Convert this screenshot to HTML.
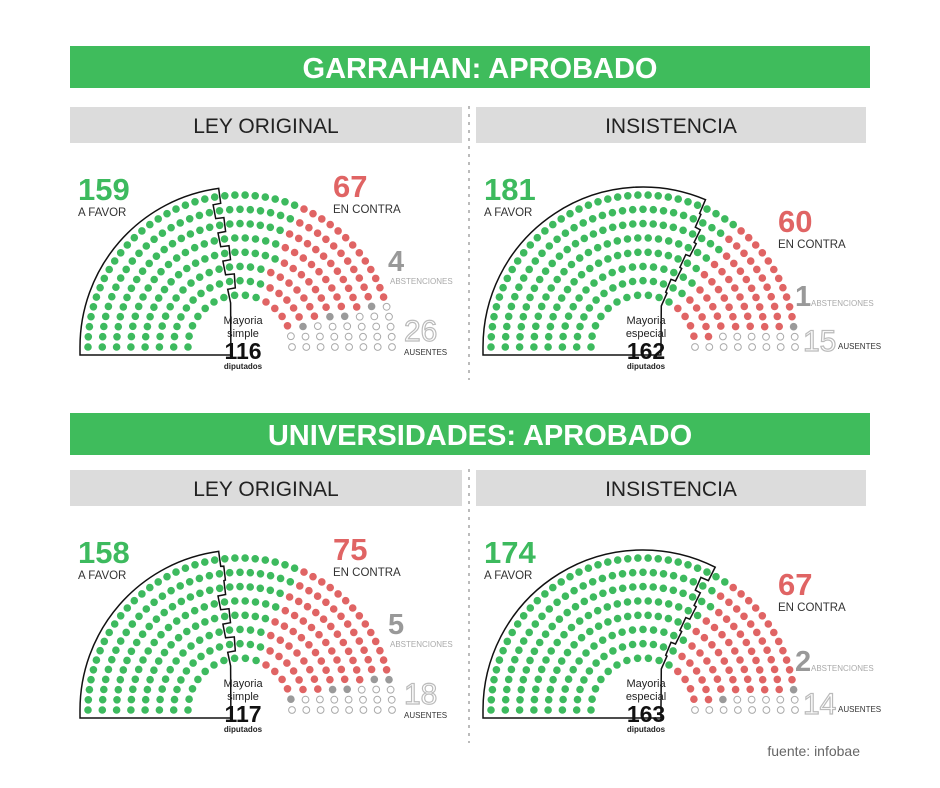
<!DOCTYPE html>
<html><head><meta charset="utf-8">
<style>
body{margin:0;background:#fff;}
svg{display:block;font-family:"Liberation Sans",sans-serif;}
</style></head>
<body>
<svg id="s" width="940" height="788" viewBox="0 0 940 788" xmlns="http://www.w3.org/2000/svg">
<rect width="940" height="788" fill="#fff"/>
<rect x="70" y="46" width="800" height="42" fill="#3fbc5c"/>
<text x="480" y="78" text-anchor="middle" font-size="29" font-weight="bold" fill="#fff">GARRAHAN: APROBADO</text>
<rect x="70" y="107" width="392" height="36" fill="#dcdcdc"/>
<rect x="476" y="107" width="390" height="36" fill="#dcdcdc"/>
<text x="266" y="133" text-anchor="middle" font-size="21" fill="#222">LEY ORIGINAL</text>
<text x="671" y="133" text-anchor="middle" font-size="21" fill="#222">INSISTENCIA</text>
<line x1="469" y1="106" x2="469" y2="380" stroke="#bbb" stroke-width="2" stroke-dasharray="3,5"/>

<rect x="70" y="413" width="800" height="42" fill="#3fbc5c"/>
<text x="480" y="445" text-anchor="middle" font-size="29" font-weight="bold" fill="#fff">UNIVERSIDADES: APROBADO</text>
<rect x="70" y="470" width="392" height="36" fill="#dcdcdc"/>
<rect x="476" y="470" width="390" height="36" fill="#dcdcdc"/>
<text x="266" y="496" text-anchor="middle" font-size="21" fill="#222">LEY ORIGINAL</text>
<text x="671" y="496" text-anchor="middle" font-size="21" fill="#222">INSISTENCIA</text>
<line x1="469" y1="469" x2="469" y2="743" stroke="#bbb" stroke-width="2" stroke-dasharray="3,5"/>

<text x="860" y="756" text-anchor="end" font-size="14" fill="#666">fuente: infobae</text>
<g id="g"></g>
</svg>
<script>
var NS="http://www.w3.org/2000/svg",G=document.getElementById("g");
function el(t,a,txt){var e=document.createElementNS(NS,t);for(var k in a)e.setAttribute(k,a[k]);if(txt!=null)e.textContent=txt;G.appendChild(e);return e;}
function chart(cx,cy,fav,con,abs,aus,maj,majLbl){
  var rows=8,rin=52,rout=152,total=256,seats=[],R=[];
  var sumr=0;for(var i=0;i<rows;i++){R[i]=rin+(rout-rin)*i/(rows-1);sumr+=R[i];}
  var counts=[],acc=0;
  for(var i=0;i<rows;i++){counts[i]=Math.round(total*R[i]/sumr);acc+=counts[i];}
  counts[rows-1]+=total-acc;
  for(var i=0;i<rows;i++){for(var j=0;j<counts[i];j++){var a=Math.PI-Math.PI*j/(counts[i]-1);seats.push({r:i,a:a,x:cx+R[i]*Math.cos(a),y:cy-R[i]*Math.sin(a)});}}
  seats.sort(function(p,q){return q.a-p.a||q.r-p.r;});
  var bound=[];for(var i=0;i<rows;i++)bound[i]=Math.PI;
  seats.forEach(function(s,k){
    var f="none",st="none";
    if(k<fav)f="#3dba5e";else if(k<fav+con)f="#e06464";else if(k<fav+con+abs)f="#9a9a9a";else{st="#aaa";}
    if(k<maj)bound[s.r]=Math.min(bound[s.r],s.a);
    if(st=="none")el("circle",{cx:s.x.toFixed(1),cy:s.y.toFixed(1),r:3.8,fill:f});
    else el("circle",{cx:s.x.toFixed(1),cy:s.y.toFixed(1),r:3.4,fill:"#fff",stroke:st,"stroke-width":1});
  });
  var ba=[];for(var i=0;i<rows;i++){var step=Math.PI/(counts[i]-1);ba[i]=bound[i]-step/2;}
  var ro=rout+8,ri=rin-8,d="M"+(cx-ro)+","+(cy+8)+" L"+(cx-ro)+","+cy;
  d+=" A"+ro+","+ro+" 0 0 1 "+(cx+ro*Math.cos(ba[rows-1])).toFixed(1)+","+(cy-ro*Math.sin(ba[rows-1])).toFixed(1);
  for(var i=rows-1;i>=0;i--){var r1=R[i]+7,r2=R[i]-7;
    d+=" L"+(cx+r1*Math.cos(ba[i])).toFixed(1)+","+(cy-r1*Math.sin(ba[i])).toFixed(1);
    d+=" L"+(cx+r2*Math.cos(ba[i])).toFixed(1)+","+(cy-r2*Math.sin(ba[i])).toFixed(1);}
  d+=" L"+(cx+ri*Math.cos(ba[0])).toFixed(1)+","+(cy+8)+" Z";
  el("path",{d:d,fill:"none",stroke:"#111","stroke-width":1.5});
  el("text",{x:cx+3,y:cy-23,"text-anchor":"middle","font-size":11,fill:"#222"},"Mayoria");
  el("text",{x:cx+3,y:cy-10,"text-anchor":"middle","font-size":11,fill:"#222"},majLbl);
  el("text",{x:cx+3,y:cy+12,"text-anchor":"middle","font-size":23,"font-weight":"bold",fill:"#111"},String(maj));
  el("text",{x:cx+3,y:cy+22,"text-anchor":"middle","font-size":8,"font-weight":"bold",fill:"#222"},"diputados");
}
function lbl(x,y,big,small,col){el("text",{x:x,y:y,"font-size":31,"font-weight":"bold",fill:col},big);el("text",{x:x,y:y+16,"font-size":11.5,fill:"#333"},small);}
function layout(dy,left,right){
  chart(240,347+dy,left[0],left[1],left[2],left[3],left[4],"simple");
  lbl(78,200+dy,String(left[0]),"A FAVOR","#3dba5e");
  lbl(333,197+dy,String(left[1]),"EN CONTRA","#e06464");
  el("text",{x:388,y:271+dy,"font-size":29,"font-weight":"bold",fill:"#999"},String(left[2]));
  el("text",{x:390,y:284+dy,"font-size":8,fill:"#aaa"},"ABSTENCIONES");
  el("text",{x:404,y:341+dy,"font-size":30,fill:"none",stroke:"#bbb","stroke-width":1.2},String(left[3]));
  el("text",{x:404,y:355+dy,"font-size":8,fill:"#333"},"AUSENTES");
  chart(643,347+dy,right[0],right[1],right[2],right[3],right[4],"especial");
  lbl(484,200+dy,String(right[0]),"A FAVOR","#3dba5e");
  lbl(778,232+dy,String(right[1]),"EN CONTRA","#e06464");
  el("text",{x:795,y:306+dy+right[5],"font-size":29,"font-weight":"bold",fill:"#999"},String(right[2]));
  el("text",{x:811,y:306+dy+right[5],"font-size":8,fill:"#aaa"},"ABSTENCIONES");
  el("text",{x:803,y:351+dy,"font-size":30,fill:"none",stroke:"#bbb","stroke-width":1.2},String(right[3]));
  el("text",{x:838,y:349+dy,"font-size":8,fill:"#333"},"AUSENTES");
}
layout(0,[159,67,4,26,116],[181,60,1,15,162,0]);
layout(363,[158,75,5,18,117],[174,67,2,14,163,2]);
</script>
</body></html>
